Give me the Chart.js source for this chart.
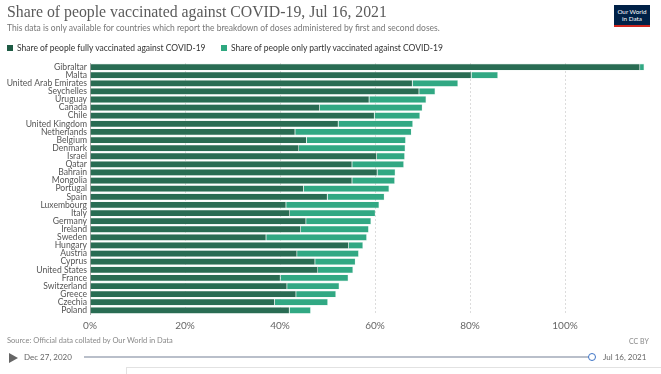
<!DOCTYPE html>
<html>
<head>
<meta charset="utf-8">
<script src="https://cdn.jsdelivr.net/npm/chart.js@4.4.0/dist/chart.umd.min.js"></script>
<style>
  body { margin: 0; background: #fff; font-family: Lato, sans-serif; }
  #wrap { position: relative; width: 661px; height: 374px; overflow: hidden; }
  #chart { position: absolute; left: 0; top: 0; }
  .abs { position: absolute; white-space: nowrap; }
  #title { left: 7px; top: 3px; font-family: "Liberation Serif", serif; font-size: 15.8px; color: #5b5b5b; }
  #subtitle { left: 7px; top: 23px; font-size: 8.5px; color: #777; }
  .leg { top: 43px; font-size: 8.5px; color: #333; }
  .sq { position: absolute; top: 45px; width: 6px; height: 6px; }
  #logo { left: 614px; top: 5px; width: 36px; height: 22px; background: #002147; border-bottom: 2px solid #ce261e; color: #fff; font-size: 6.3px; line-height: 7px; text-align: center; padding-top: 3px; box-sizing: border-box; }
  #source { left: 7px; top: 336px; font-size: 7.5px; color: #888; }
  #ccby { left: 629px; top: 337px; font-size: 7px; color: #888; }
  .date { top: 352px; font-size: 8px; color: #666; }
  #track { left: 84px; top: 356px; width: 506px; height: 2px; background: #b9bfca; }
  #knob { left: 588px; top: 353px; width: 8px; height: 8px; border: 1.5px solid #3d74c6; border-radius: 50%; background: #fff; box-sizing: border-box; }
  #play { left: 9px; top: 353px; width: 0; height: 0; border-top: 5px solid transparent; border-bottom: 5px solid transparent; border-left: 9px solid #666; }
  #tabs { left: 126px; top: 367px; width: 535px; height: 10px; border-top: 1px solid #e2e2e2; border-left: 1px solid #e2e2e2; }
</style>
</head>
<body>
<div id="wrap">
  <canvas id="chart" width="661" height="374"></canvas>
  <div class="abs" id="title">Share of people vaccinated against COVID-19, Jul 16, 2021</div>
  <div class="abs" id="subtitle">This data is only available for countries which report the breakdown of doses administered by first and second doses.</div>
  <div class="sq" style="left:7px;background:#1e5b44"></div>
  <div class="abs leg" style="left:17px">Share of people fully vaccinated against COVID-19</div>
  <div class="sq" style="left:221px;background:#2fa880"></div>
  <div class="abs leg" style="left:231px">Share of people only partly vaccinated against COVID-19</div>
  <div class="abs" id="logo">Our World<br>in Data</div>
  <div class="abs" id="source">Source: Official data collated by Our World in Data</div>
  <div class="abs" id="ccby">CC BY</div>
  <div class="abs" id="play"></div>
  <div class="abs date" style="left:24px">Dec 27, 2020</div>
  <div class="abs" id="track"></div>
  <div class="abs" id="knob"></div>
  <div class="abs date" style="left:603px">Jul 16, 2021</div>
  <div class="abs" id="tabs"></div>
</div>
<script>
// ** DATA: ** //

var countries = ['Gibraltar', 'Malta', 'United Arab Emirates', 'Seychelles', 'Uruguay', 'Canada', 'Chile',
	'United Kingdom', 'Netherlands', 'Belgium', 'Denmark', 'Israel', 'Qatar', 'Bahrain', 'Mongolia',
	'Portugal', 'Spain', 'Luxembourg', 'Italy', 'Germany', 'Ireland', 'Sweden', 'Hungary', 'Austria',
	'Cyprus', 'United States', 'France', 'Switzerland', 'Greece', 'Czechia', 'Poland'];

var fullyVaccinated = [115.8, 80.3, 67.9, 69.3, 58.8, 48.4, 59.9, 52.3, 43.2, 45.6, 44.0, 60.4, 55.2, 60.5, 55.2,
	45.0, 50.0, 41.3, 42.1, 45.5, 44.4, 37.1, 54.5, 43.6, 47.4, 48.0, 40.1, 41.5, 43.4, 38.9, 42.0];

var partlyVaccinated = [0.9, 5.6, 9.6, 3.4, 12.0, 21.6, 9.6, 15.7, 24.5, 20.9, 22.4, 5.9, 10.9, 3.8, 9.0,
	18.0, 12.0, 19.6, 18.0, 13.7, 14.3, 21.2, 3.0, 13.0, 8.5, 7.4, 14.3, 11.0, 8.4, 11.2, 4.5];

var tickValues = [0, 20, 40, 60, 80, 100];

// ** CHART: ** //

Chart.defaults.font.family = 'Lato';

function generateGraph(graphID){
	var graph = document.getElementById(graphID);
	new Chart(graph, {
		type: 'bar',
		data: {
			labels: countries,
			datasets: [{
				label: 'Share of people fully vaccinated against COVID-19',
				data: fullyVaccinated,
				backgroundColor: '#296c53',
				borderColor: 'rgba(200,225,215,0.6)',
				borderWidth: 0.6
			}, {
				label: 'Share of people only partly vaccinated against COVID-19',
				data: partlyVaccinated,
				backgroundColor: '#31a883',
				borderColor: 'rgba(200,235,222,0.6)',
				borderWidth: 0.6
			}]
		},
		options: {
			indexAxis: 'y',
			responsive: false,
			animation: false,
			datasets: { bar: { barPercentage: 0.86, categoryPercentage: 1 } },
			layout: { padding: { top: 63, bottom: 39.6, left: 0, right: 1 } },
			plugins: { legend: { display: false }, tooltip: { enabled: false } },
			scales: {
				x: {
					stacked: true,
					min: 0,
					max: 120,
					afterBuildTicks: function(scale) {
						scale.ticks = tickValues.map(function(v) { return { value: v }; });
					},
					afterFit: function(scale) { scale.height = 20; },
					grid: { color: '#dcdcdc', drawTicks: false },
					border: { display: false, dash: [2, 2] },
					ticks: {
						padding: 5,
						color: '#666',
						font: { size: 10 },
						callback: function(v) { return v + '%'; }
					}
				},
				y: {
					stacked: true,
					afterFit: function(scale) { scale.width = 90; },
					grid: { display: false, drawTicks: false },
					border: { display: true, color: '#aaa' },
					ticks: { padding: 3, color: '#555', font: { size: 8.6 }, autoSkip: false }
				}
			}
		}
	});
}

generateGraph('chart');
</script>
</body>
</html>
